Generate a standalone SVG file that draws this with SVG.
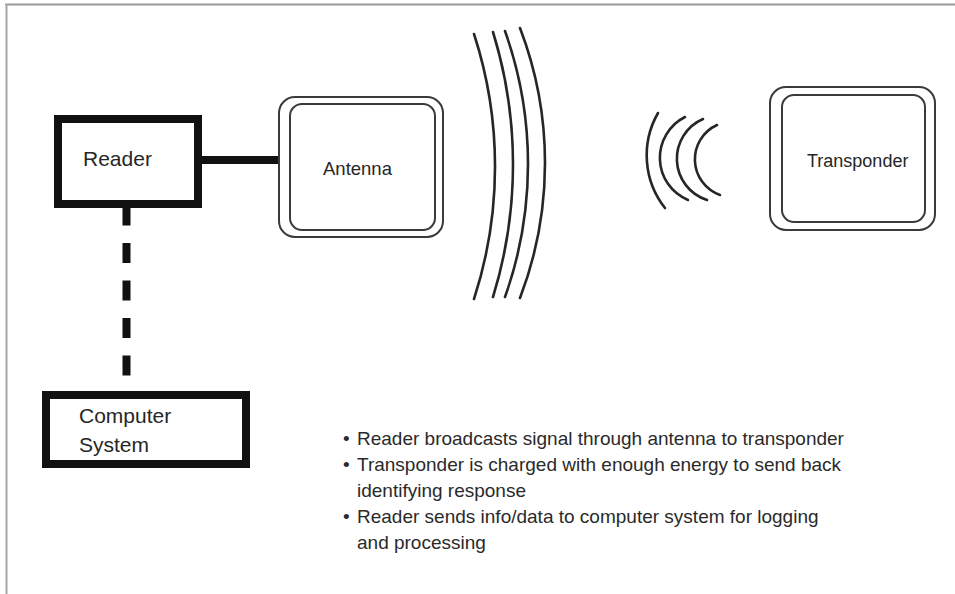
<svg xmlns="http://www.w3.org/2000/svg" width="955" height="594" viewBox="0 0 955 594">
  <style>
    .thick { fill: #ffffff; stroke: #111111; stroke-width: 8; }
    .dbl { fill: #ffffff; stroke: #3a3a3a; stroke-width: 2; }
    .lbl { font-family: "Liberation Sans", Arial, sans-serif; fill: #262626; }
    .wave { fill: none; stroke: #262626; stroke-width: 2.6; stroke-linecap: round; }
    .note { font-family: "Liberation Sans", Arial, sans-serif; font-size: 19px; fill: #2a2a2a; }
  </style>
  <rect x="0" y="0" width="955" height="594" fill="#ffffff"/>
  <g id="frame">
    <line x1="5" y1="4.5" x2="955" y2="4.5" stroke="#9a9a9a" stroke-width="2"/>
    <line x1="6.5" y1="4" x2="6.5" y2="594" stroke="#a8a8a8" stroke-width="2"/>
  </g>

  <g id="connectors">
    <line x1="200" y1="160" x2="281" y2="160" stroke="#111111" stroke-width="8"/>
    <line x1="126.5" y1="205.5" x2="126.5" y2="391" stroke="#111111" stroke-width="8" stroke-dasharray="20 17.5"/>
  </g>

  <g id="reader">
    <rect class="thick" x="58" y="119" width="140" height="85"/>
    <text class="lbl" x="83" y="166" font-size="21">Reader</text>
  </g>

  <g id="antenna">
    <rect class="dbl" x="279" y="97" width="164" height="140" rx="16"/>
    <rect class="dbl" x="290" y="104" width="145" height="126" rx="12"/>
    <text class="lbl" x="323" y="175" font-size="18.5">Antenna</text>
  </g>

  <g id="transponder">
    <rect class="dbl" x="770" y="87" width="165" height="143" rx="16"/>
    <rect class="dbl" x="782" y="95" width="143" height="127" rx="12"/>
    <text class="lbl" x="807" y="167" font-size="18">Transponder</text>
  </g>

  <g id="computer">
    <rect class="thick" x="46" y="395" width="200" height="69"/>
    <text class="lbl" x="79" y="423" font-size="21">Computer</text>
    <text class="lbl" x="79" y="452" font-size="21">System</text>
  </g>

  <g id="waves-out">
    <path class="wave" d="M474,34 A428 428 0 0 1 474,299"/>
    <path class="wave" d="M493,32 A449 449 0 0 1 493,297"/>
    <path class="wave" d="M505,31 A396 396 0 0 1 505,297"/>
    <path class="wave" d="M520,28 A377 377 0 0 1 520,298"/>
  </g>

  <g id="waves-back">
    <path class="wave" d="M658,113 A85 85 0 0 0 665,208"/>
    <path class="wave" d="M685,117 A45.7 45.7 0 0 0 688,200"/>
    <path class="wave" d="M703,119 A43.3 43.3 0 0 0 707,200"/>
    <path class="wave" d="M717,125 A37.8 37.8 0 0 0 720,195"/>
  </g>

  <g id="notes">
    <text class="note" x="343" y="445">•</text>
    <text class="note" x="357" y="445">Reader broadcasts signal through antenna to transponder</text>
    <text class="note" x="343" y="471">•</text>
    <text class="note" x="357" y="471">Transponder is charged with enough energy to send back</text>
    <text class="note" x="357" y="497">identifying response</text>
    <text class="note" x="343" y="523">•</text>
    <text class="note" x="357" y="523">Reader sends info/data to computer system for logging</text>
    <text class="note" x="357" y="549">and processing</text>
  </g>
</svg>
